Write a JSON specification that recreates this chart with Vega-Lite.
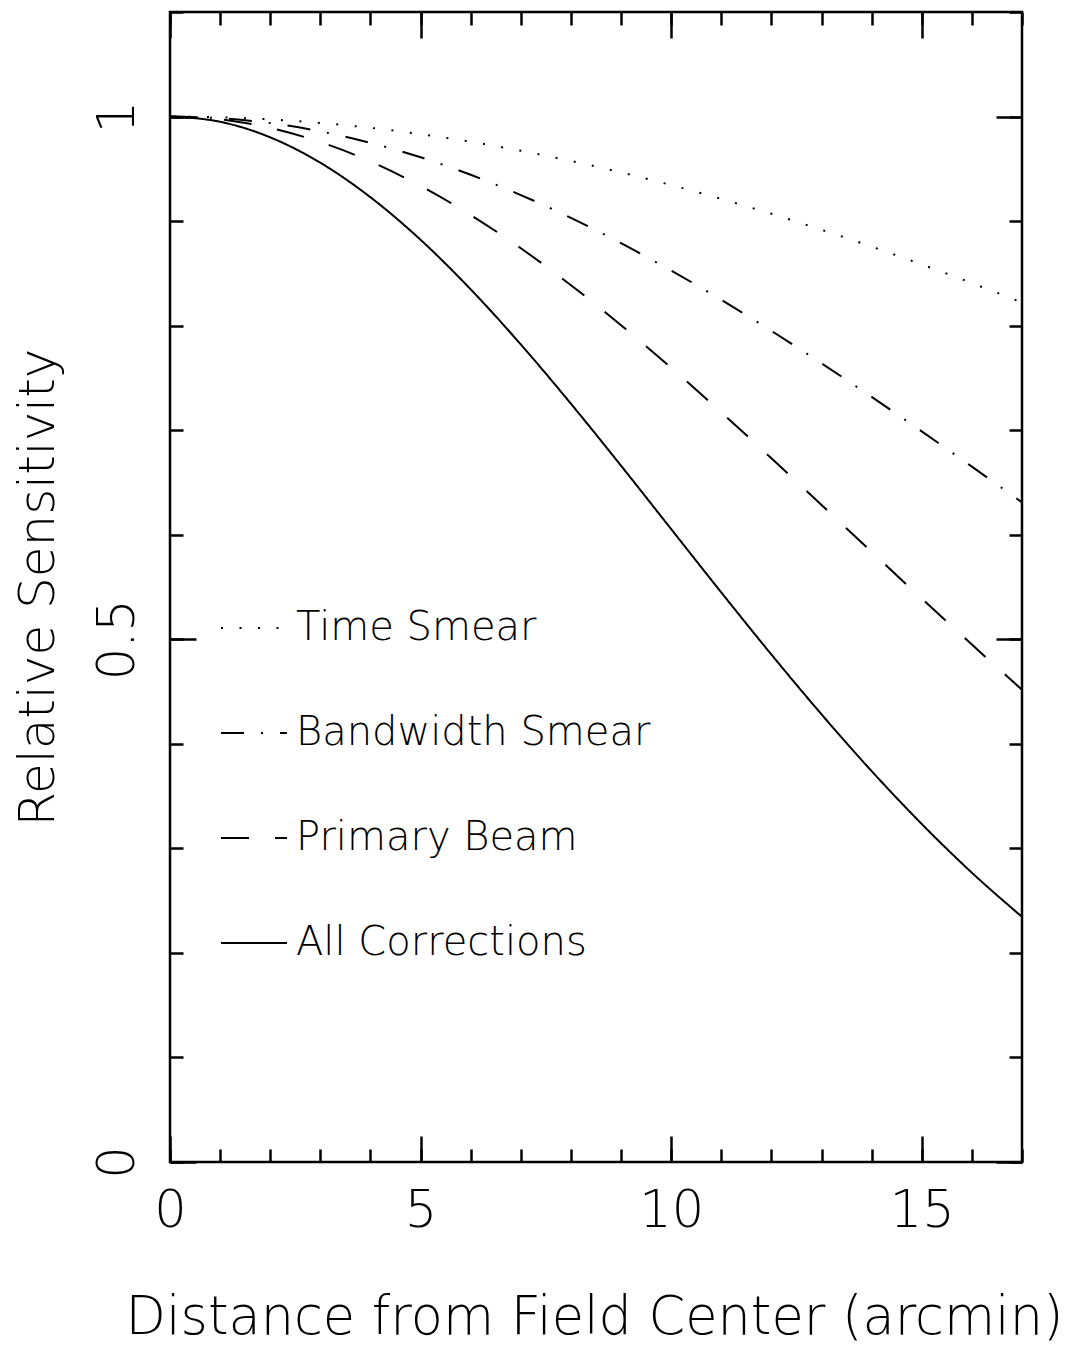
{
  "$schema": "https://vega.github.io/schema/vega-lite/v6.json",
  "width": 852,
  "height": 1150,
  "autosize": "none",
  "padding": {"left": 170, "top": 12, "right": 48, "bottom": 184},
  "background": "white",
  "config": {
    "view": {"stroke": "black", "strokeWidth": 2.5},
    "font": "DejaVu Sans",
    "axis": {"tickColor": "black", "tickWidth": 2.5, "labelColor": "black", "titleColor": "black", "labelFont": "DejaVu Sans", "titleFont": "DejaVu Sans", "labelFontWeight": 200, "titleFontWeight": 200, "grid": false, "domain": false, "labelFlush": false, "labelOverlap": false}
  },
  "data": {"values": [
    {"x":0,"v":1,"s":"Time Smear"},{"x":1,"v":0.9993,"s":"Time Smear"},{"x":2,"v":0.9973,"s":"Time Smear"},{"x":3,"v":0.9939,"s":"Time Smear"},{"x":4,"v":0.9892,"s":"Time Smear"},{"x":5,"v":0.9832,"s":"Time Smear"},{"x":6,"v":0.9759,"s":"Time Smear"},{"x":7,"v":0.9673,"s":"Time Smear"},{"x":8,"v":0.9575,"s":"Time Smear"},{"x":9,"v":0.9466,"s":"Time Smear"},{"x":10,"v":0.9344,"s":"Time Smear"},{"x":11,"v":0.9212,"s":"Time Smear"},{"x":12,"v":0.907,"s":"Time Smear"},{"x":13,"v":0.8917,"s":"Time Smear"},{"x":14,"v":0.8756,"s":"Time Smear"},{"x":15,"v":0.8585,"s":"Time Smear"},{"x":16,"v":0.8407,"s":"Time Smear"},{"x":17,"v":0.8221,"s":"Time Smear"},
    {"x":0,"v":1,"s":"Bandwidth Smear"},{"x":1,"v":0.9984,"s":"Bandwidth Smear"},{"x":2,"v":0.9937,"s":"Bandwidth Smear"},{"x":3,"v":0.9858,"s":"Bandwidth Smear"},{"x":4,"v":0.9748,"s":"Bandwidth Smear"},{"x":5,"v":0.961,"s":"Bandwidth Smear"},{"x":6,"v":0.9443,"s":"Bandwidth Smear"},{"x":7,"v":0.9249,"s":"Bandwidth Smear"},{"x":8,"v":0.9031,"s":"Bandwidth Smear"},{"x":9,"v":0.8789,"s":"Bandwidth Smear"},{"x":10,"v":0.8527,"s":"Bandwidth Smear"},{"x":11,"v":0.8247,"s":"Bandwidth Smear"},{"x":12,"v":0.795,"s":"Bandwidth Smear"},{"x":13,"v":0.764,"s":"Bandwidth Smear"},{"x":14,"v":0.7318,"s":"Bandwidth Smear"},{"x":15,"v":0.6988,"s":"Bandwidth Smear"},{"x":16,"v":0.6651,"s":"Bandwidth Smear"},{"x":17,"v":0.631,"s":"Bandwidth Smear"},
    {"x":0,"v":1,"s":"Primary Beam"},{"x":1,"v":0.9973,"s":"Primary Beam"},{"x":2,"v":0.9891,"s":"Primary Beam"},{"x":3,"v":0.9756,"s":"Primary Beam"},{"x":4,"v":0.957,"s":"Primary Beam"},{"x":5,"v":0.9336,"s":"Primary Beam"},{"x":6,"v":0.9058,"s":"Primary Beam"},{"x":7,"v":0.874,"s":"Primary Beam"},{"x":8,"v":0.8387,"s":"Primary Beam"},{"x":9,"v":0.8004,"s":"Primary Beam"},{"x":10,"v":0.7597,"s":"Primary Beam"},{"x":11,"v":0.7171,"s":"Primary Beam"},{"x":12,"v":0.6732,"s":"Primary Beam"},{"x":13,"v":0.6285,"s":"Primary Beam"},{"x":14,"v":0.5836,"s":"Primary Beam"},{"x":15,"v":0.5389,"s":"Primary Beam"},{"x":16,"v":0.4949,"s":"Primary Beam"},{"x":17,"v":0.4517,"s":"Primary Beam"},
    {"x":0,"v":1,"s":"All Corrections"},{"x":1,"v":0.995,"s":"All Corrections"},{"x":2,"v":0.9801,"s":"All Corrections"},{"x":3,"v":0.9558,"s":"All Corrections"},{"x":4,"v":0.9228,"s":"All Corrections"},{"x":5,"v":0.8821,"s":"All Corrections"},{"x":6,"v":0.8347,"s":"All Corrections"},{"x":7,"v":0.782,"s":"All Corrections"},{"x":8,"v":0.7253,"s":"All Corrections"},{"x":9,"v":0.666,"s":"All Corrections"},{"x":10,"v":0.6054,"s":"All Corrections"},{"x":11,"v":0.5448,"s":"All Corrections"},{"x":12,"v":0.4854,"s":"All Corrections"},{"x":13,"v":0.4282,"s":"All Corrections"},{"x":14,"v":0.3739,"s":"All Corrections"},{"x":15,"v":0.3233,"s":"All Corrections"},{"x":16,"v":0.2767,"s":"All Corrections"},{"x":17,"v":0.2345,"s":"All Corrections"}
  ]},
  "resolve": {"axis": {"x": "independent", "y": "independent"}},
  "layer": [
    {
      "mark": {"type": "line", "color": "black", "strokeWidth": 2, "interpolate": "monotone"},
      "encoding": {
        "x": {"field": "x", "type": "quantitative", "scale": {"domain": [0, 17], "nice": false, "zero": false},
          "axis": {"orient": "bottom", "values": [0, 5, 10, 15], "format": "d", "ticks": false, "labelBaseline": "top", "labelPadding": 24, "labelFontSize": 51,
            "title": "Distance from Field Center (arcmin)", "titleFontSize": 52.5, "titleBaseline": "alphabetic", "titleY": 171, "titleX": 424}},
        "y": {"field": "v", "type": "quantitative", "scale": {"domain": [0, 1.1], "nice": false, "zero": false},
          "axis": {"orient": "left", "values": [0, 0.5, 1], "format": "~g", "ticks": false, "labelAngle": 270, "labelAlign": "center", "labelBaseline": "alphabetic", "labelPadding": 37, "labelFontSize": 51,
            "title": "Relative Sensitivity", "titleFontSize": 50, "titleAngle": 270, "titleAlign": "center", "titleBaseline": "alphabetic", "titleX": -117, "titleY": 575}},
        "strokeDash": {"field": "s", "type": "nominal",
          "scale": {"domain": ["Time Smear", "Bandwidth Smear", "Primary Beam", "All Corrections"], "range": [[2, 16.5], [23, 17, 2, 17], [28, 26], [1, 0]]},
          "legend": {"orient": "none", "legendX": 50, "legendY": 582, "title": null, "symbolType": "stroke", "symbolSize": 4356, "symbolStrokeWidth": 2, "symbolStrokeColor": "black",
            "labelFont": "DejaVu Sans", "labelFontWeight": 200, "labelFontSize": 40, "labelColor": "black", "labelOffset": 8, "rowPadding": 51, "padding": 0, "labelLimit": 0}}
      }
    },
    {
      "mark": {"type": "point", "opacity": 0},
      "encoding": {
        "x": {"field": "x", "type": "quantitative", "axis": {"orient": "bottom", "values": [0, 5, 10, 15], "tickSize": -26, "labels": false, "title": null}},
        "y": {"field": "v", "type": "quantitative", "axis": {"orient": "left", "values": [0, 0.5, 1], "tickSize": -26, "labels": false, "title": null}}
      }
    },
    {
      "mark": {"type": "point", "opacity": 0},
      "encoding": {
        "x": {"field": "x", "type": "quantitative", "axis": {"orient": "bottom", "values": [0, 1, 2, 3, 4, 5, 6, 7, 8, 9, 10, 11, 12, 13, 14, 15, 16, 17], "tickSize": -13, "labels": false, "title": null}},
        "y": {"field": "v", "type": "quantitative", "axis": {"orient": "left", "values": [0, 0.1, 0.2, 0.3, 0.4, 0.5, 0.6, 0.7, 0.8, 0.9, 1, 1.1], "tickSize": -13, "labels": false, "title": null}}
      }
    },
    {
      "mark": {"type": "point", "opacity": 0},
      "encoding": {
        "x": {"field": "x", "type": "quantitative", "axis": {"orient": "top", "values": [0, 5, 10, 15], "tickSize": -26, "labels": false, "title": null}},
        "y": {"field": "v", "type": "quantitative", "axis": {"orient": "right", "values": [0, 0.5, 1], "tickSize": -26, "labels": false, "title": null}}
      }
    },
    {
      "mark": {"type": "point", "opacity": 0},
      "encoding": {
        "x": {"field": "x", "type": "quantitative", "axis": {"orient": "top", "values": [0, 1, 2, 3, 4, 5, 6, 7, 8, 9, 10, 11, 12, 13, 14, 15, 16, 17], "tickSize": -13, "labels": false, "title": null}},
        "y": {"field": "v", "type": "quantitative", "axis": {"orient": "right", "values": [0, 0.1, 0.2, 0.3, 0.4, 0.5, 0.6, 0.7, 0.8, 0.9, 1, 1.1], "tickSize": -13, "labels": false, "title": null}}
      }
    }
  ]
}
